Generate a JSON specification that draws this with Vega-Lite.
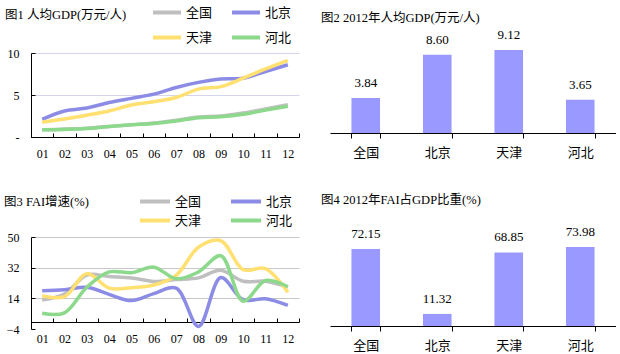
{
  "$schema": "https://vega.github.io/schema/vega-lite/v6.json",
  "background": "white",
  "padding": {"left": 4, "top": 0, "right": 0, "bottom": 0},
  "columns": 2,
  "spacing": {"row": 100, "column": 31},
  "align": "each",
  "bounds": "flush",
  "resolve": {"scale": {"color": "independent"}, "legend": {"color": "independent"}},
  "config": {
    "view": {"stroke": null},
    "axis": {"domainColor": "#000000", "tickColor": "#000000", "labelColor": "#000000", "labelFont": "Liberation Serif", "labelFontSize": 12, "domainWidth": 1, "tickWidth": 1},
    "title": {"font": "Liberation Serif, Noto Sans CJK SC", "fontSize": 12.5, "fontWeight": "normal", "color": "#000000", "anchor": "start", "frame": "group"},
    "legend": {"labelFont": "Noto Sans CJK SC", "labelFontSize": 13, "labelColor": "#000000", "padding": 0}
  },
  "datasets": {
    "gdp": [
      {"year": "01", "region": "全国", "value": 0.86}, {"year": "02", "region": "全国", "value": 0.94}, {"year": "03", "region": "全国", "value": 1.05}, {"year": "04", "region": "全国", "value": 1.25}, {"year": "05", "region": "全国", "value": 1.45}, {"year": "06", "region": "全国", "value": 1.67}, {"year": "07", "region": "全国", "value": 2.0}, {"year": "08", "region": "全国", "value": 2.37}, {"year": "09", "region": "全国", "value": 2.5}, {"year": "10", "region": "全国", "value": 2.85}, {"year": "11", "region": "全国", "value": 3.35}, {"year": "12", "region": "全国", "value": 3.84},
      {"year": "01", "region": "北京", "value": 2.1}, {"year": "02", "region": "北京", "value": 3.1}, {"year": "03", "region": "北京", "value": 3.45}, {"year": "04", "region": "北京", "value": 4.1}, {"year": "05", "region": "北京", "value": 4.6}, {"year": "06", "region": "北京", "value": 5.1}, {"year": "07", "region": "北京", "value": 5.9}, {"year": "08", "region": "北京", "value": 6.5}, {"year": "09", "region": "北京", "value": 6.9}, {"year": "10", "region": "北京", "value": 7.0}, {"year": "11", "region": "北京", "value": 7.8}, {"year": "12", "region": "北京", "value": 8.6},
      {"year": "01", "region": "天津", "value": 1.75}, {"year": "02", "region": "天津", "value": 2.15}, {"year": "03", "region": "天津", "value": 2.6}, {"year": "04", "region": "天津", "value": 3.1}, {"year": "05", "region": "天津", "value": 3.8}, {"year": "06", "region": "天津", "value": 4.2}, {"year": "07", "region": "天津", "value": 4.7}, {"year": "08", "region": "天津", "value": 5.7}, {"year": "09", "region": "天津", "value": 6.0}, {"year": "10", "region": "天津", "value": 7.0}, {"year": "11", "region": "天津", "value": 8.1}, {"year": "12", "region": "天津", "value": 9.12},
      {"year": "01", "region": "河北", "value": 0.85}, {"year": "02", "region": "河北", "value": 0.9}, {"year": "03", "region": "河北", "value": 1.0}, {"year": "04", "region": "河北", "value": 1.25}, {"year": "05", "region": "河北", "value": 1.45}, {"year": "06", "region": "河北", "value": 1.6}, {"year": "07", "region": "河北", "value": 1.9}, {"year": "08", "region": "河北", "value": 2.3}, {"year": "09", "region": "河北", "value": 2.4}, {"year": "10", "region": "河北", "value": 2.7}, {"year": "11", "region": "河北", "value": 3.2}, {"year": "12", "region": "河北", "value": 3.65}
    ],
    "fai": [
      {"year": "01", "region": "全国", "value": 13.0}, {"year": "02", "region": "全国", "value": 16.5}, {"year": "03", "region": "全国", "value": 27.7}, {"year": "04", "region": "全国", "value": 26.8}, {"year": "05", "region": "全国", "value": 26.0}, {"year": "06", "region": "全国", "value": 23.9}, {"year": "07", "region": "全国", "value": 25.0}, {"year": "08", "region": "全国", "value": 26.0}, {"year": "09", "region": "全国", "value": 30.5}, {"year": "10", "region": "全国", "value": 24.0}, {"year": "11", "region": "全国", "value": 24.0}, {"year": "12", "region": "全国", "value": 20.6},
      {"year": "01", "region": "北京", "value": 18.5}, {"year": "02", "region": "北京", "value": 19.0}, {"year": "03", "region": "北京", "value": 20.5}, {"year": "04", "region": "北京", "value": 16.3}, {"year": "05", "region": "北京", "value": 12.7}, {"year": "06", "region": "北京", "value": 16.8}, {"year": "07", "region": "北京", "value": 20.0}, {"year": "08", "region": "北京", "value": -2.5}, {"year": "09", "region": "北京", "value": 26.2}, {"year": "10", "region": "北京", "value": 13.2}, {"year": "11", "region": "北京", "value": 13.7}, {"year": "12", "region": "北京", "value": 9.8},
      {"year": "01", "region": "天津", "value": 15.5}, {"year": "02", "region": "天津", "value": 15.0}, {"year": "03", "region": "天津", "value": 28.5}, {"year": "04", "region": "天津", "value": 20.0}, {"year": "05", "region": "天津", "value": 20.2}, {"year": "06", "region": "天津", "value": 21.8}, {"year": "07", "region": "天津", "value": 27.5}, {"year": "08", "region": "天津", "value": 44.0}, {"year": "09", "region": "天津", "value": 47.8}, {"year": "10", "region": "天津", "value": 30.8}, {"year": "11", "region": "天津", "value": 31.5}, {"year": "12", "region": "天津", "value": 17.5},
      {"year": "01", "region": "河北", "value": 5.2}, {"year": "02", "region": "河北", "value": 5.5}, {"year": "03", "region": "河北", "value": 20.5}, {"year": "04", "region": "河北", "value": 29.5}, {"year": "05", "region": "河北", "value": 29.0}, {"year": "06", "region": "河北", "value": 32.3}, {"year": "07", "region": "河北", "value": 25.5}, {"year": "08", "region": "河北", "value": 29.5}, {"year": "09", "region": "河北", "value": 39.0}, {"year": "10", "region": "河北", "value": 12.3}, {"year": "11", "region": "河北", "value": 24.5}, {"year": "12", "region": "河北", "value": 20.8}
    ],
    "gdp2012": [
      {"region": "全国", "value": 3.84}, {"region": "北京", "value": 8.60}, {"region": "天津", "value": 9.12}, {"region": "河北", "value": 3.65}
    ],
    "fai2012": [
      {"region": "全国", "value": 72.15}, {"region": "北京", "value": 11.32}, {"region": "天津", "value": 68.85}, {"region": "河北", "value": 73.98}
    ]
  },
  "concat": [
    {
      "width": 268, "height": 84,
      "title": {"text": "图1 人均GDP(万元/人)", "dx": -26, "dy": 25},
      "data": {"name": "gdp"},
      "mark": {"type": "line", "interpolate": "catmull-rom", "strokeWidth": 3.5},
      "encoding": {
        "x": {"field": "year", "type": "ordinal", "scale": {"type": "band", "paddingInner": 0, "paddingOuter": 0}, "bandPosition": 0.5,
              "axis": {"title": null, "labelAngle": 0, "tickBand": "extent", "tickSize": -4, "labelPadding": 15}},
        "y": {"field": "value", "type": "quantitative", "scale": {"domain": [0, 10], "nice": false},
              "axis": {"title": null, "values": [0, 5, 10], "labelExpr": "datum.value == 0 ? '-' : datum.label", "grid": true, "gridColor": "#D4D4EA", "tickSize": -4, "labelPadding": 16}},
        "color": {"field": "region", "type": "nominal",
                  "scale": {"domain": ["全国", "天津", "北京", "河北"], "range": ["#BFBFBF", "#FFE070", "#8C8CE6", "#8CD98C"]},
                  "legend": {"orient": "none", "legendX": 120, "legendY": -53, "columns": 2, "title": null, "symbolType": "stroke", "symbolSize": 784, "symbolStrokeWidth": 4, "labelOffset": 3, "columnPadding": 17, "rowPadding": 0, "clipHeight": 25}}
      }
    },
    {
      "width": 286, "height": 80,
      "title": {"text": "图2 2012年人均GDP(万元/人)", "dx": -9, "dy": 0},
      "data": {"name": "gdp2012"},
      "encoding": {
        "x": {"field": "region", "type": "nominal", "sort": null, "scale": {"paddingInner": 0.6, "paddingOuter": 0.3},
              "axis": {"title": null, "labelAngle": 0, "tickBand": "extent", "tickSize": 5, "labelPadding": 8, "labelFont": "Noto Sans CJK SC", "labelFontSize": 13}},
        "y": {"field": "value", "type": "quantitative", "scale": {"domain": [0, 8.79], "nice": false}, "axis": null}
      },
      "layer": [
        {"mark": {"type": "bar", "color": "#9999FF"}},
        {"mark": {"type": "text", "baseline": "bottom", "dy": -8, "font": "Liberation Serif", "fontSize": 13, "color": "#000000"},
         "encoding": {"text": {"field": "value", "type": "quantitative", "format": ".2f"}}}
      ]
    },
    {
      "width": 268, "height": 92,
      "title": {"text": "图3 FAI增速(%)", "dx": -27, "dy": 20},
      "data": {"name": "fai"},
      "mark": {"type": "line", "interpolate": "catmull-rom", "strokeWidth": 3.5},
      "encoding": {
        "x": {"field": "year", "type": "ordinal", "scale": {"type": "band", "paddingInner": 0, "paddingOuter": 0}, "bandPosition": 0.5,
              "axis": {"title": null, "labelAngle": 0, "tickBand": "extent", "tickSize": -4, "labelPadding": 15, "offset": -7}},
        "y": {"field": "value", "type": "quantitative", "scale": {"domain": [-4, 50], "nice": false},
              "axis": {"title": null, "values": [-4, 14, 32, 50], "grid": true, "gridColor": "#C8C8C8", "gridOpacity": {"condition": {"test": "datum.value == -4", "value": 0}, "value": 1}, "tickSize": -4, "labelPadding": 16}},
        "color": {"field": "region", "type": "nominal",
                  "scale": {"domain": ["全国", "天津", "北京", "河北"], "range": ["#BFBFBF", "#FFE070", "#8C8CE6", "#8CD98C"]},
                  "legend": {"orient": "none", "legendX": 107, "legendY": -45, "columns": 2, "title": null, "symbolType": "stroke", "symbolSize": 900, "symbolStrokeWidth": 4, "labelOffset": 3, "columnPadding": 27, "rowPadding": 0, "clipHeight": 19}}
      }
    },
    {
      "width": 286, "height": 89,
      "title": {"text": "图4 2012年FAI占GDP比重(%)", "dx": -9, "dy": -15},
      "data": {"name": "fai2012"},
      "encoding": {
        "x": {"field": "region", "type": "nominal", "sort": null, "scale": {"paddingInner": 0.6, "paddingOuter": 0.3},
              "axis": {"title": null, "labelAngle": 0, "tickBand": "extent", "tickSize": 5, "labelPadding": 8, "labelFont": "Noto Sans CJK SC", "labelFontSize": 13}},
        "y": {"field": "value", "type": "quantitative", "scale": {"domain": [0, 83.3], "nice": false}, "axis": null}
      },
      "layer": [
        {"mark": {"type": "bar", "color": "#9999FF"}},
        {"mark": {"type": "text", "baseline": "bottom", "dy": -8, "font": "Liberation Serif", "fontSize": 13, "color": "#000000"},
         "encoding": {"text": {"field": "value", "type": "quantitative", "format": ".2f"}}}
      ]
    }
  ]
}
